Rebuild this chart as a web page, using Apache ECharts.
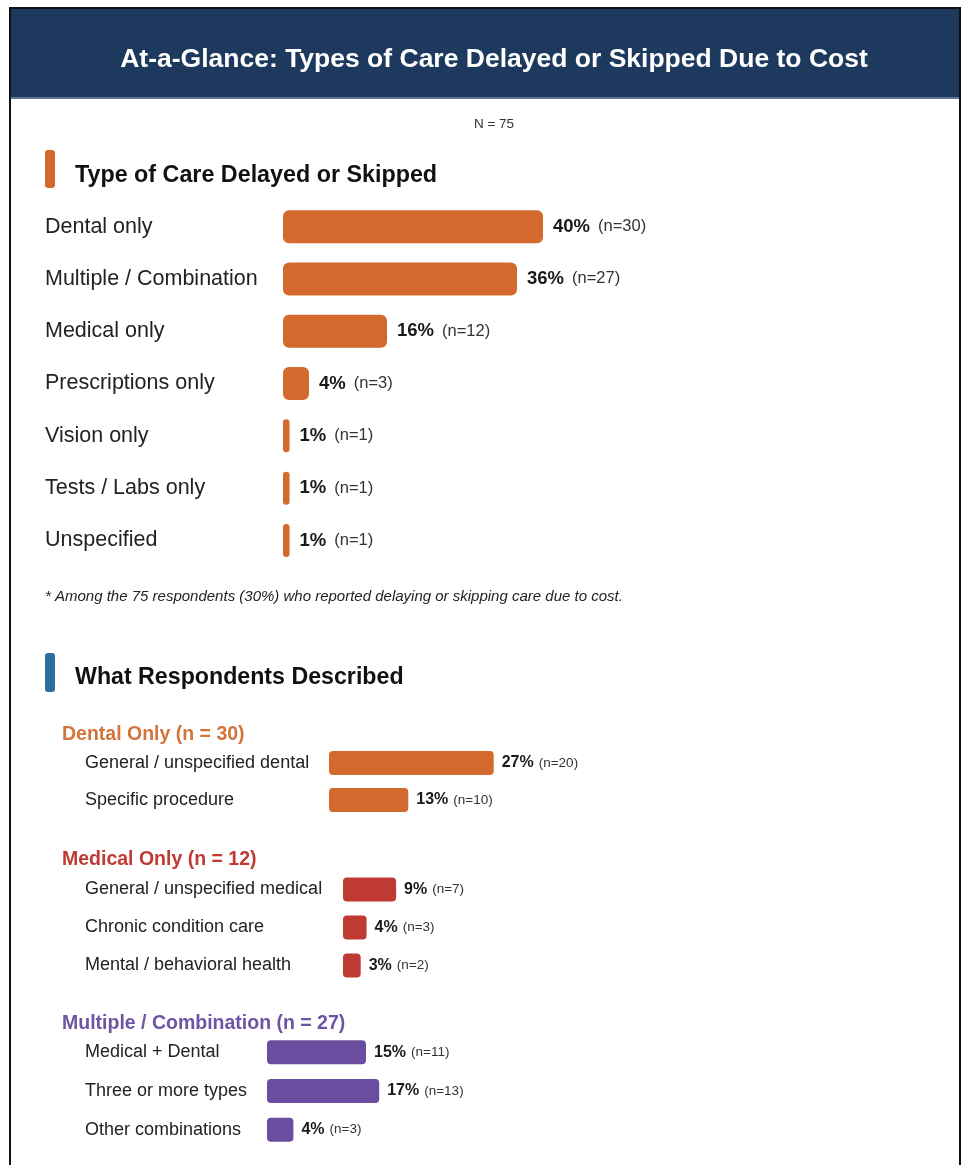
<!DOCTYPE html>
<html>
<head>
<meta charset="utf-8">
<title>At-a-Glance: Types of Care Delayed or Skipped Due to Cost</title>
<script src="https://cdn.jsdelivr.net/npm/echarts@6/dist/echarts.min.js"></script>
<style>
  html, body { margin: 0; padding: 0; background: #ffffff; }
  #chart { width: 962px; height: 1165px; }
</style>
</head>
<body>
<div id="chart"></div>
<script>
// Type of care delayed or skipped (share of the 75 respondents)
const careTypes = ['Dental only', 'Multiple / Combination', 'Medical only', 'Prescriptions only', 'Vision only', 'Tests / Labs only', 'Unspecified'];
const carePct = [40, 36, 16, 4, 1, 1, 1];
const careN = [30, 27, 12, 3, 1, 1, 1];

// What respondents described, by group
const dentalItems = ['General / unspecified dental', 'Specific procedure'];
const dentalPct = [27, 13];
const dentalN = [20, 10];

const medicalItems = ['General / unspecified medical', 'Chronic condition care', 'Mental / behavioral health'];
const medicalPct = [9, 4, 3];
const medicalN = [7, 3, 2];

const comboItems = ['Medical + Dental', 'Three or more types', 'Other combinations'];
const comboPct = [15, 17, 4];
const comboN = [11, 13, 3];

const FONT = '"Liberation Sans", Arial, Helvetica, sans-serif';
const ORANGE = '#d4692d';
const RED = '#bf3a33';
const PURPLE = '#6a4d9e';

const chart = echarts.init(document.getElementById('chart'), null, { renderer: 'canvas' });

// One panel = grid + hidden value axis + category axis + bar series
const grids = [], xAxes = [], yAxes = [], series = [];
function addPanel(p) {
  const i = grids.length;
  grids.push({ left: p.left, top: p.top, width: p.pxPerPct * 100, height: p.rowH * p.cats.length, containLabel: false });
  xAxes.push({ gridIndex: i, type: 'value', min: 0, max: 100, show: false });
  yAxes.push({
    gridIndex: i, type: 'category', data: p.cats, inverse: true,
    axisLine: { show: false }, axisTick: { show: false }, splitLine: { show: false },
    axisLabel: { align: 'left', margin: p.left - p.labelX, fontFamily: FONT, fontSize: p.labelSize, color: '#222' }
  });
  series.push({
    type: 'bar', xAxisIndex: i, yAxisIndex: i, data: p.values, barWidth: p.barH,
    itemStyle: { color: p.color, borderRadius: p.radius },
    silent: true, animation: false,
    label: {
      show: true, position: 'right', distance: p.labelGap,
      formatter: (prm) => '{p|' + prm.value + '%}{n|(n=' + p.counts[prm.dataIndex] + ')}',
      rich: {
        p: { fontFamily: FONT, fontWeight: 'bold', fontSize: p.pctSize, color: '#1a1a1a' },
        n: { fontFamily: FONT, fontSize: p.nSize, color: '#333', padding: [0, 0, 0, p.nGap] }
      }
    }
  });
}

addPanel({ cats: careTypes, values: carePct, counts: careN, left: 283, top: 200.5, rowH: 52.3, pxPerPct: 6.5,
  barH: 33, radius: 6, color: ORANGE, labelX: 45, labelSize: 21.5, labelGap: 10, pctSize: 18.5, nSize: 16.5, nGap: 8 });
addPanel({ cats: dentalItems, values: dentalPct, counts: dentalN, left: 329, top: 744.5, rowH: 37, pxPerPct: 6.1,
  barH: 24, radius: 4, color: ORANGE, labelX: 85, labelSize: 18, labelGap: 8, pctSize: 16, nSize: 13.5, nGap: 5 });
addPanel({ cats: medicalItems, values: medicalPct, counts: medicalN, left: 343, top: 870.5, rowH: 38, pxPerPct: 5.9,
  barH: 24, radius: 4, color: RED, labelX: 85, labelSize: 18, labelGap: 8, pctSize: 16, nSize: 13.5, nGap: 5 });
addPanel({ cats: comboItems, values: comboPct, counts: comboN, left: 267, top: 1033, rowH: 38.7, pxPerPct: 6.6,
  barH: 24, radius: 4, color: PURPLE, labelX: 85, labelSize: 18, labelGap: 8, pctSize: 16, nSize: 13.5, nGap: 5 });

function txt(x, y, text, font, fill, align) {
  return { type: 'text', x: x, y: y, silent: true,
    style: { text: text, font: font, fill: fill, textAlign: align || 'left', textVerticalAlign: 'middle' } };
}

const graphic = [
  // card frame and header band
  { type: 'rect', silent: true, z: -10, shape: { x: 10, y: 8, width: 950, height: 1175 }, style: { fill: '#ffffff', stroke: '#111111', lineWidth: 2 } },
  { type: 'rect', silent: true, z: -9, shape: { x: 11, y: 9, width: 948, height: 89 }, style: { fill: '#1d3a5e' } },
  { type: 'rect', silent: true, z: -9, shape: { x: 11, y: 97, width: 948, height: 2 }, style: { fill: '#5f7491' } },
  txt(494, 60, 'At-a-Glance: Types of Care Delayed or Skipped Due to Cost', 'bold 26.5px ' + FONT, '#ffffff', 'center'),
  txt(494, 124, 'N = 75', '13.5px ' + FONT, '#333333', 'center'),

  // section 1 heading
  { type: 'rect', silent: true, shape: { x: 45, y: 150, width: 10, height: 38, r: 3 }, style: { fill: ORANGE } },
  txt(75, 176, 'Type of Care Delayed or Skipped', 'bold 23.3px ' + FONT, '#111111'),
  txt(45, 597, '* Among the 75 respondents (30%) who reported delaying or skipping care due to cost.', 'italic 15px ' + FONT, '#222222'),

  // section 2 heading
  { type: 'rect', silent: true, shape: { x: 45, y: 653, width: 10, height: 39, r: 3 }, style: { fill: '#2b6e9e' } },
  txt(75, 678, 'What Respondents Described', 'bold 23.2px ' + FONT, '#111111'),
  txt(62, 735, 'Dental Only (n = 30)', 'bold 19.5px ' + FONT, '#d2743b'),
  txt(62, 860, 'Medical Only (n = 12)', 'bold 19.5px ' + FONT, RED),
  txt(62, 1024, 'Multiple / Combination (n = 27)', 'bold 19.5px ' + FONT, '#6e55a3')
];

chart.setOption({
  animation: false,
  backgroundColor: '#ffffff',
  grid: grids,
  xAxis: xAxes,
  yAxis: yAxes,
  series: series,
  graphic: graphic
});
</script>
</body>
</html>
